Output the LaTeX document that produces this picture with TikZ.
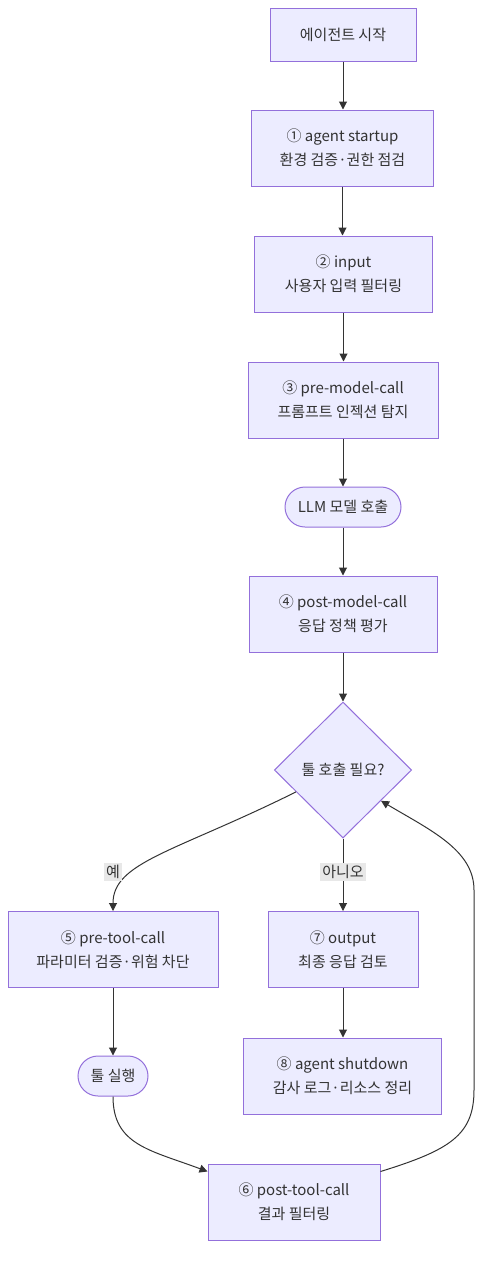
\documentclass[tikz,border=0pt]{standalone}
\usepackage{fontspec}
\setmainfont{Noto Sans CJK KR}
\usetikzlibrary{shapes.geometric, arrows.meta}

\definecolor{boxfill}{HTML}{ECECFF}
\definecolor{boxline}{HTML}{9370DB}
\definecolor{ink}{HTML}{333333}
\definecolor{lblbg}{HTML}{E8E8E8}

\tikzset{
	box/.style = {draw=boxline, fill=boxfill, text=ink, line width=0.75pt, align=center,
		minimum height=57pt, inner sep=0pt, font=\fontsize{11.25}{18}\selectfont},
	pill/.style = {box, rounded corners=15pt, minimum height=30pt},
	decision/.style = {diamond, draw=boxline, fill=boxfill, text=ink, line width=0.75pt,
		minimum width=103pt, minimum height=102pt, inner sep=0pt, font=\fontsize{11.25}{18}\selectfont},
	flow/.style = {draw=ink, line width=0.75pt, -{Triangle[length=6pt, width=6pt]}},
	edgelabel/.style = {fill=lblbg, text=ink, inner sep=1.5pt, font=\fontsize{11.25}{14}\selectfont}
}

\begin{document}
\begin{tikzpicture}[x=0.75pt, y=-0.75pt]
	\useasboundingbox (0,0) rectangle (492,1268);

	\node[box, minimum width=109.5pt, minimum height=39.75pt] (start) at (343,34.5) {에이전트 시작};
	\node[box, minimum width=137pt] (startup) at (342.5,148) {① agent startup\\환경 검증·권한 점검};
	\node[box, minimum width=133pt] (input) at (343.5,274) {② input\\사용자 입력 필터링};
	\node[box, minimum width=142.5pt] (premodel) at (343,400) {③ pre-model-call\\프롬프트 인젝션 탐지};
	\node[pill, minimum width=87pt] (llm) at (343,507) {LLM 모델 호출};
	\node[box, minimum width=141pt] (postmodel) at (343,614) {④ post-model-call\\응답 정책 평가};
	\node[decision] (needtool) at (343,770) {툴 호출 필요?};
	\node[box, minimum width=157.5pt] (pretool) at (113,949.5) {⑤ pre-tool-call\\파라미터 검증·위험 차단};
	\node[box, minimum width=112.5pt] (output) at (343,949.5) {⑦ output\\최종 응답 검토};
	\node[pill, minimum width=52.5pt] (runtool) at (113,1076) {툴 실행};
	\node[box, minimum width=148pt] (shutdown) at (342.5,1076) {⑧ agent shutdown\\감사 로그·리소스 정리};
	\node[box, minimum width=129pt] (posttool) at (294,1202) {⑥ post-tool-call\\결과 필터링};

	\draw[flow] (start) -- (start |- startup.north);
	\draw[flow] (startup) -- (startup |- input.north);
	\draw[flow] (input) -- (input |- premodel.north);
	\draw[flow] (premodel) -- (llm);
	\draw[flow] (llm) -- (postmodel);
	\draw[flow] (postmodel) -- (needtool);
	\draw[flow] (needtool.205) .. controls (175,852) and (113,862) .. (pretool.north);
	\draw[flow] (needtool) -- (output);
	\draw[flow] (pretool) -- (runtool);
	\draw[flow] (runtool.south) .. controls (113,1145) and (150,1150) .. ([yshift=-6pt]posttool.north west);
	\draw[flow] ([yshift=-6pt]posttool.north east) .. controls (450,1150) and (474,1135) .. (474,1090)
		-- (474,890) .. controls (474,850) and (430,830) .. (needtool.-39);
	\draw[flow] (output) -- (output |- shutdown.north);

	\node[edgelabel] (yes) at (113,872) {예};
	\node[edgelabel] (no) at (343,872) {아니오};
\end{tikzpicture}
\end{document}
